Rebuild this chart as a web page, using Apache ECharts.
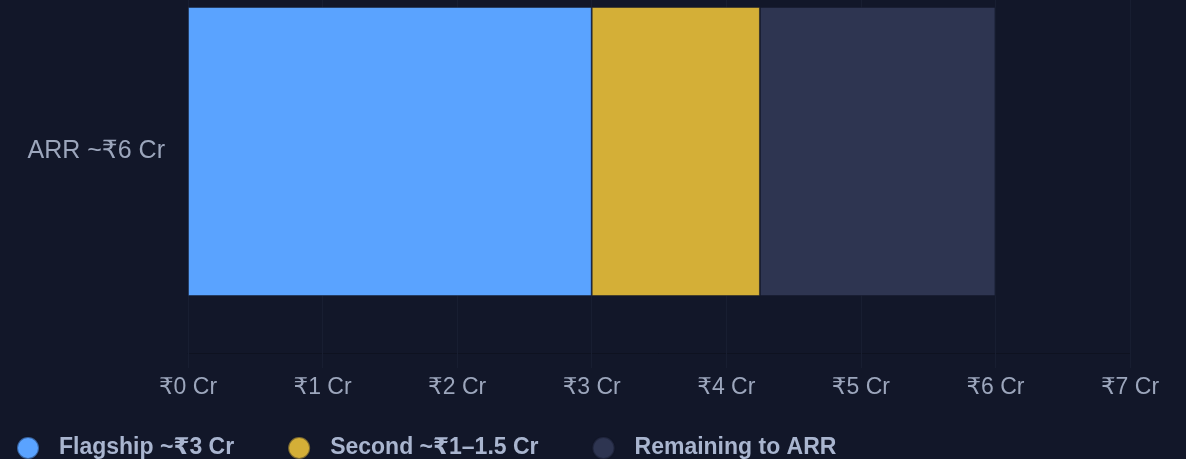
<!DOCTYPE html>
<html><head><meta charset="utf-8">
<script src="https://cdn.jsdelivr.net/npm/echarts@6/dist/echarts.min.js"></script>
<style>html,body{margin:0;padding:0;background:#121729;}#c{width:1186px;height:459px;}</style>
</head><body><div id="c"></div>
<script>
const categories = ['ARR ~₹6 Cr'];
const seriesNames = ['Flagship ~₹3 Cr', 'Second ~₹1–1.5 Cr', 'Remaining to ARR'];
const flagship = [3];
const second = [1.25];
const remaining = [1.75];
const xTicks = [0, 1, 2, 3, 4, 5, 6, 7];
const colors = ['#5AA3FF', '#D4AF37', '#2E3551'];

const font = '"Liberation Sans", Arial, "DejaVu Sans", sans-serif';
const chart = echarts.init(document.getElementById('c'));
const barStyle = (c) => ({ color: c, borderColor: 'rgba(18,23,41,0.45)', borderWidth: 1 });
chart.setOption({
  backgroundColor: '#121729',
  animation: false,
  grid: { left: 188, width: 942, top: -50, height: 403, containLabel: false, outerBoundsMode: 'none' },
  legend: {
    left: 11, top: 431, icon: 'circle', itemWidth: 22, itemHeight: 22, itemGap: 53,
    textStyle: { color: '#A9B5CF', fontSize: 23, fontWeight: 'bold', fontFamily: font, padding: [0,0,0,15] },
    data: seriesNames
  },
  xAxis: {
    type: 'value', min: xTicks[0], max: xTicks[xTicks.length-1], interval: 1,
    axisLine: { show: true, lineStyle: { color: '#0E1220', width: 1 } },
    axisTick: { show: true, length: 15, lineStyle: { color: '#181E31' } },
    splitLine: { show: true, lineStyle: { color: '#181E31', width: 1 } },
    axisLabel: { color: '#9CA6BC', fontSize: 23, fontFamily: font, margin: 23, formatter: v => '₹' + v + ' Cr' }
  },
  yAxis: {
    type: 'category', data: categories,
    axisLine: { show: false }, axisTick: { show: false },
    axisLabel: { color: '#9CA6BC', fontSize: 25, fontFamily: font, margin: 23 }
  },
  series: [
    { name: seriesNames[0], type: 'bar', stack: 'a', barWidth: 289, data: flagship, itemStyle: barStyle(colors[0]) },
    { name: seriesNames[1], type: 'bar', stack: 'a', barWidth: 289, data: second, itemStyle: barStyle(colors[1]) },
    { name: seriesNames[2], type: 'bar', stack: 'a', barWidth: 289, data: remaining, itemStyle: barStyle(colors[2]) }
  ]
});
</script></body></html>
